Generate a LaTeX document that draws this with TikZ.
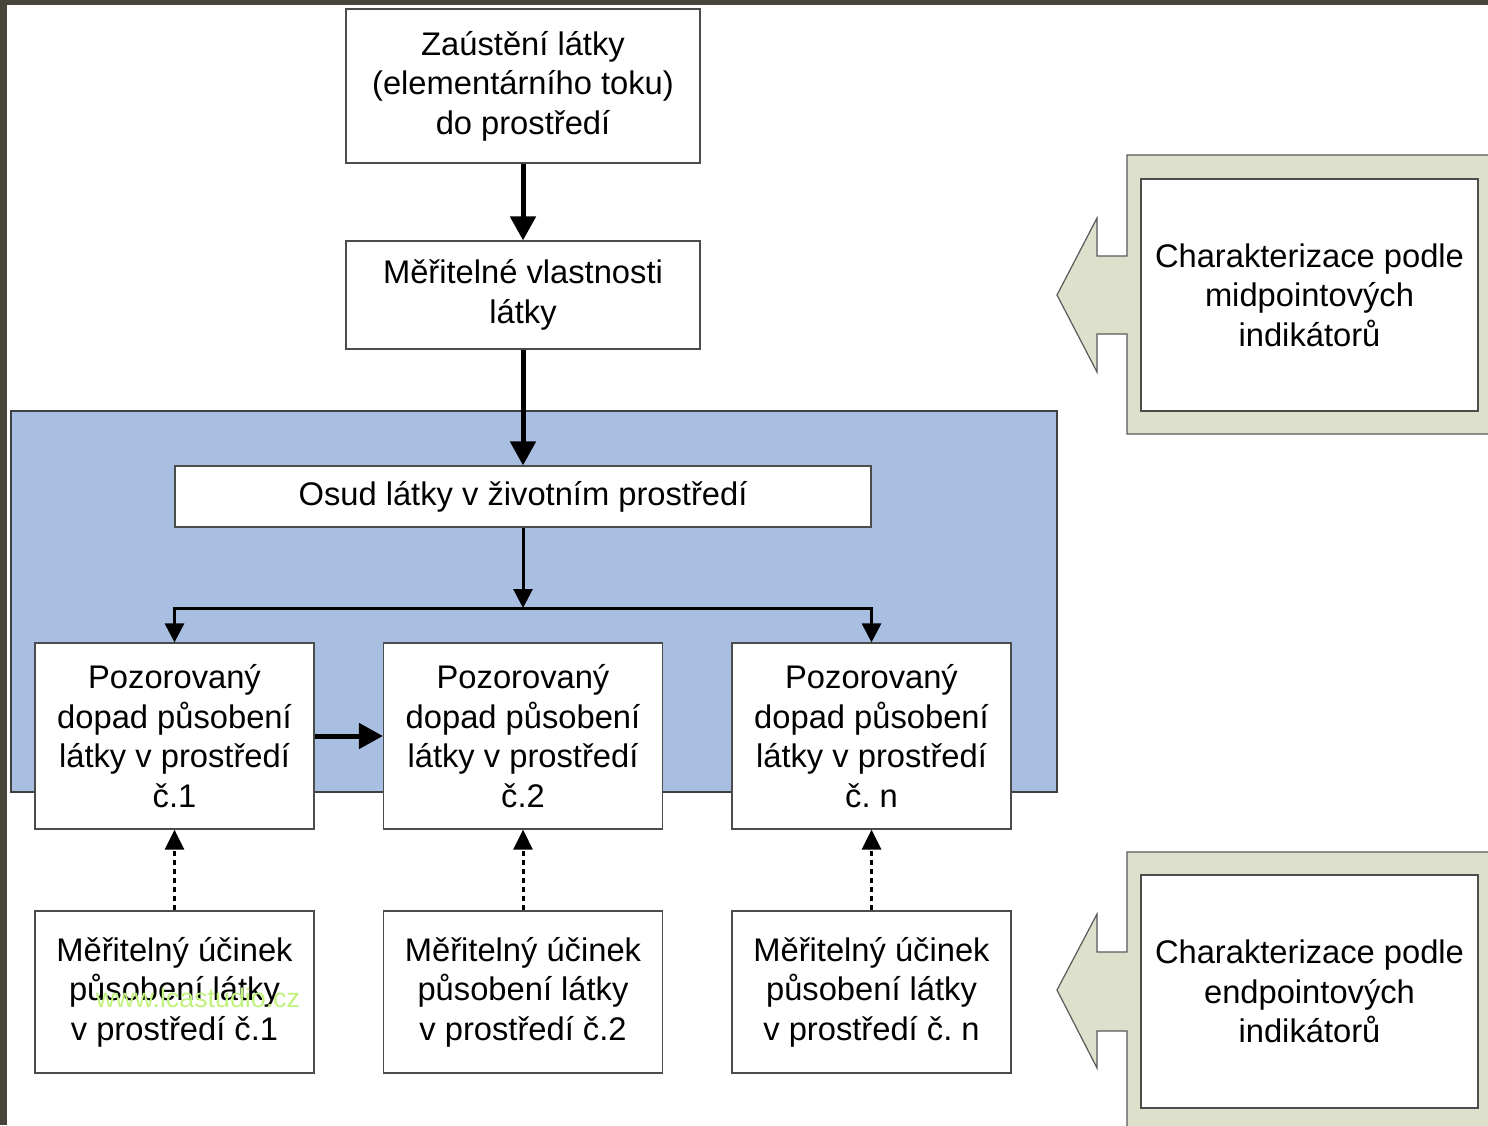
\documentclass[tikz,border=0pt]{standalone}
\usepackage{fontspec}
\setmainfont{Liberation Sans}
\usetikzlibrary{arrows.meta}
\definecolor{slidebg}{HTML}{48463A}
\definecolor{panelblue}{HTML}{A9BFE2}
\definecolor{panelsage}{HTML}{DDE0CB}
\definecolor{markgreen}{HTML}{C2F27E}
\frenchspacing
\begin{document}
\begin{tikzpicture}[x=0.5pt,y=-0.5pt,
  box/.style={draw=black!70, line width=0.6pt, fill=white, align=center,
    inner sep=0pt, font=\fontsize{16.35}{19.8}\selectfont},
  bigarrow/.style={line width=2.5pt, -{Triangle[length=12pt,width=12.5pt]}},
  smallarrow/.style={line width=1.5pt, -{Triangle[length=9.5pt,width=9.5pt]}},
  dotarrow/.style={line width=1.5pt, dash pattern=on 2.5pt off 2pt,
    -{Triangle[length=10pt,width=9.5pt]}},
  sagepanel/.style={fill=panelsage, draw=black!65, line width=0.6pt}
]
\useasboundingbox (0,0) rectangle (1488,1125);
\clip (0,0) rectangle (1488,1125);
\fill[white] (0,0) rectangle (1488,1125);
% slide frame
\fill[slidebg] (0,0) rectangle (1488,5);
\fill[slidebg] (0,0) rectangle (7,1125);

% environment area
\draw[draw=black!75, line width=0.6pt, fill=panelblue] (11,411) rectangle (1057,792);

% main chain
\node[box, minimum width=177pt, minimum height=77pt] (src) at (523,86)
  {Zaústění látky\\(elementárního toku)\\do prostředí};
\node[box, minimum width=177pt, minimum height=54pt] (prop) at (523,295)
  {Měřitelné vlastnosti\\látky};
\node[box, minimum width=348pt, minimum height=30.5pt] (fate) at (523,496.5)
  {Osud látky v životním prostředí};

\node[box, minimum width=139.5pt, minimum height=93pt] (p1) at (174.5,736)
  {Pozorovaný\\dopad působení\\látky v prostředí\\č.1};
\node[box, minimum width=139.5pt, minimum height=93pt] (p2) at (523,736)
  {Pozorovaný\\dopad působení\\látky v prostředí\\č.2};
\node[box, minimum width=139.5pt, minimum height=93pt] (p3) at (871.5,736)
  {Pozorovaný\\dopad působení\\látky v prostředí\\č. n};

\node[box, minimum width=139.5pt, minimum height=81pt] (m1) at (174.5,992)
  {Měřitelný účinek\\působení látky\\v prostředí č.1};
\node[box, minimum width=139.5pt, minimum height=81pt] (m2) at (523,992)
  {Měřitelný účinek\\působení látky\\v prostředí č.2};
\node[box, minimum width=139.5pt, minimum height=81pt] (m3) at (871.5,992)
  {Měřitelný účinek\\působení látky\\v prostředí č. n};

% connectors
\draw[bigarrow] (src.south) -- (prop.north);
\draw[bigarrow] (prop.south) -- (fate.north);
\coordinate (split) at (523,608);
\draw[smallarrow] (fate.south) -- (split);
\draw[smallarrow] (split) -| (p1.north);
\draw[smallarrow] (split) -| (p3.north);
\draw[bigarrow] (p1.east) -- (p2.west);
\draw[dotarrow] (m1.north) -- (p1.south);
\draw[dotarrow] (m2.north) -- (p2.south);
\draw[dotarrow] (m3.north) -- (p3.south);

% characterisation panels with pointing arrows
\draw[sagepanel] (1500,155) -- (1127,155) -- (1127,256) -- (1097,256) -- (1097,218)
  -- (1057,295) -- (1097,372) -- (1097,334) -- (1127,334) -- (1127,434) -- (1500,434);
\node[box, minimum width=168.5pt, minimum height=116pt] (mid) at (1309.5,295)
  {Charakterizace podle\\midpointových\\indikátorů};

\draw[sagepanel] (1500,852) -- (1127,852) -- (1127,952) -- (1097,952) -- (1097,914)
  -- (1057,990) -- (1097,1068) -- (1097,1031) -- (1127,1031) -- (1127,1140) -- (1500,1140);
\node[box, minimum width=168.5pt, minimum height=116.5pt] (end) at (1309.5,991.5)
  {Charakterizace podle\\endpointových\\indikátorů};

% watermark
\node[anchor=base, inner sep=0pt, text=markgreen, font=\fontsize{13.4}{16}\selectfont]
  (wm) at (198,1007) {www.lcastudio.cz};
\end{tikzpicture}
\end{document}
